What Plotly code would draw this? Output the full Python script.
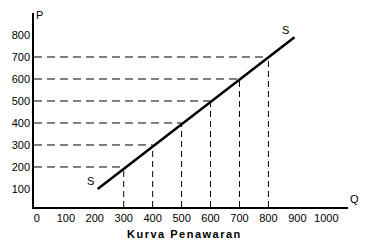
import plotly.graph_objects as go

# Data
quantity = [300, 400, 500, 600, 700, 800]
price = [200, 300, 400, 500, 600, 700]
line_q = [210, 890]
line_p = [100, 790]
x_ticks = [0, 100, 200, 300, 400, 500, 600, 700, 800, 900, 1000]
x_ticklabels = ["0", "100", "200", "300", "400", "500", "600", "700", "800", "900", "1000"]
y_ticks = [100, 200, 300, 400, 500, 600, 700, 800]
y_ticklabels = ["100", "200", "300", "400", "500", "600", "700", "800"]

X0, X1 = -10, 1075
Y0, Y1 = 18, 900

fig = go.Figure()

# dashed guide lines
for q, p in zip(quantity, price):
    fig.add_trace(go.Scatter(x=[X0, q], y=[p, p], mode="lines",
                             line=dict(color="black", width=1, dash="8px,5px"),
                             hoverinfo="skip", showlegend=False))
    fig.add_trace(go.Scatter(x=[q, q], y=[Y0, p], mode="lines",
                             line=dict(color="black", width=1, dash="6px,4px"),
                             hoverinfo="skip", showlegend=False))

# supply line
fig.add_trace(go.Scatter(x=line_q, y=line_p, mode="lines",
                         line=dict(color="black", width=2.5),
                         hoverinfo="skip", showlegend=False))

font = dict(family="Liberation Sans, Arial, sans-serif", size=11, color="black")

fig.update_layout(
    width=367, height=243,
    margin=dict(l=29, r=19, t=13, b=36),
    paper_bgcolor="white", plot_bgcolor="white",
    font=font,
    xaxis=dict(range=[X0, X1], tickvals=x_ticks, ticktext=x_ticklabels,
               showgrid=False, zeroline=False, showline=True,
               linecolor="black", linewidth=1.5, ticks="",
               tickfont=font, fixedrange=True),
    yaxis=dict(range=[Y0, Y1], tickvals=y_ticks, ticktext=y_ticklabels,
               showgrid=False, zeroline=False, showline=True,
               linecolor="black", linewidth=1.5, ticks="",
               tickfont=font, ticklen=0, fixedrange=True),
    annotations=[
        dict(x=185, y=135, xref="x", yref="y", text="S", showarrow=False,
             font=dict(family="Liberation Sans, Arial", size=11, color="black")),
        dict(x=860, y=825, xref="x", yref="y", text="S", showarrow=False,
             font=dict(family="Liberation Sans, Arial", size=11, color="black")),
        dict(x=1.0, y=0, xref="paper", yref="paper", text="Q", showarrow=False,
             xanchor="left", yanchor="bottom", xshift=0, yshift=0,
             font=dict(family="Liberation Sans, Arial", size=11, color="black")),
        dict(x=0, y=1.0, xref="paper", yref="paper", text="P", showarrow=False,
             xanchor="left", yanchor="middle", xshift=0, yshift=-2,
             font=dict(family="Liberation Sans, Arial", size=11, color="black")),
        dict(x=0.5, y=0, xref="paper", yref="paper",
             text="<b><span style=\"letter-spacing:1.5px\">Kurva Penawaran</span></b>",
             showarrow=False, yanchor="middle", yshift=-27, xshift=-7,
             font=dict(family="Liberation Sans, Arial", size=11, color="black")),
    ],
)

fig.write_html("out.html")
